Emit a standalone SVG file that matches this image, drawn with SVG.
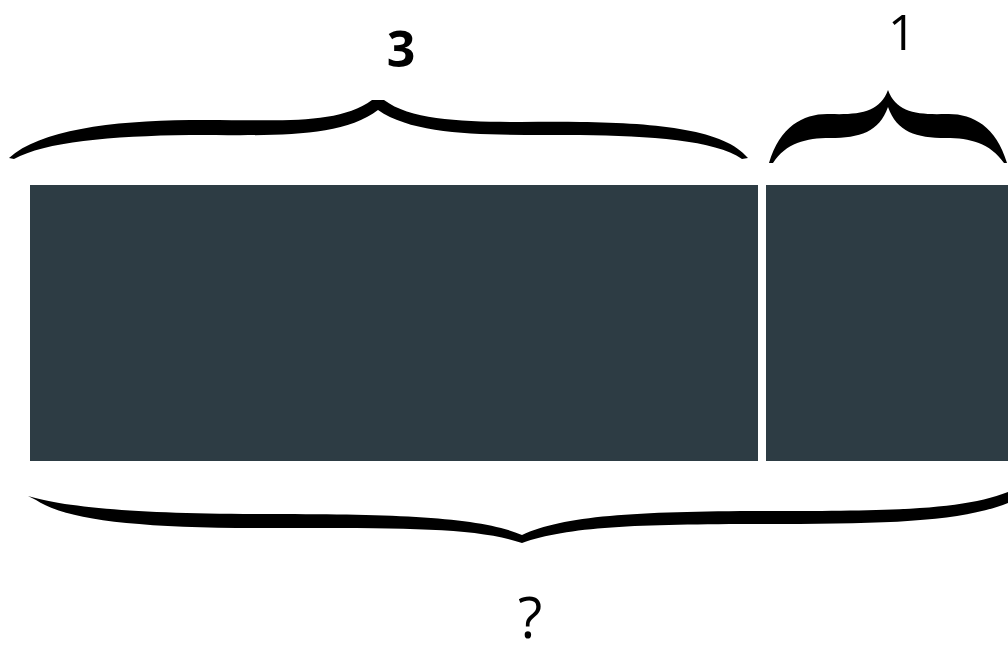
<svg xmlns="http://www.w3.org/2000/svg" width="1008" height="654" viewBox="0 0 1008 654">
<style>
.bar{fill:#2d3c44}
.brace{fill:#000}
.lbl{font-family:"Open Sans","Liberation Sans",sans-serif;fill:#000;text-anchor:middle}
</style>
<rect width="1008" height="654" fill="#fff"/>
<g id="bar-three"><rect class="bar" x="30" y="185" width="728" height="276"/></g>
<g id="bar-one"><rect class="bar" x="766" y="185" width="242" height="276"/></g>
<g id="brace-three">
<path class="brace" d="M9,158 C40,130 110,121 190,120 C270,119 335,127 372,100 L384,100 C420,127 500,121 580,122 C660,123 725,130 748,158 L742,159 C715,140 650,136 580,135 C500,134 420,139 378,110 C340,139 270,135 190,135 C110,136 45,142 14,159 Z"/>
<text class="lbl" x="401" y="67" font-size="50" font-weight="bold">3</text>
</g>
<g id="brace-one">
<path class="brace" d="M769,163 C780,125 805,113 830,114 C860,115 880,112 888,90 C896,112 916,115 946,114 C971,113 996,125 1007,163 L1004,163 C990,143 970,138 946,138 C916,138 897,132 888,107 C879,132 860,138 830,138 C806,138 786,143 773,163 Z"/>
<text class="lbl" x="902" y="50" font-size="49">1</text>
</g>
<g id="brace-total">
<path class="brace" d="M28,496 C60,506 130,514 260,514 C400,514 480,517 522,535 C565,515 640,511 780,511 C900,511 965,509 1008,492 L1008,503 C965,520 900,524 780,524 C640,524 570,526 522,543 C475,527 400,528 260,528 C130,528 65,519 36,500 Z"/>
<text class="lbl" x="530" y="638" font-size="56">?</text>
</g>
<g id="connectors"/>
</svg>
